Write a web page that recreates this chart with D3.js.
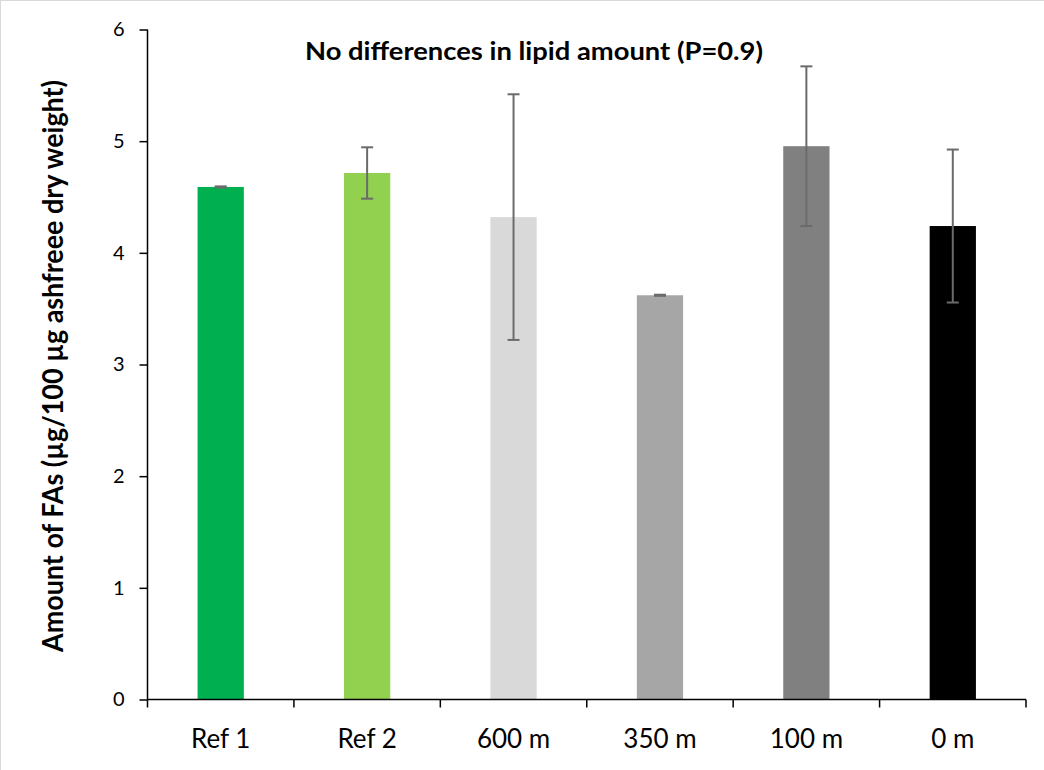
<!DOCTYPE html>
<html>
<head>
<meta charset="utf-8">
<script src="https://cdn.jsdelivr.net/npm/d3@7"></script>
<style>
  html, body { margin: 0; padding: 0; background: #fff; }
  svg { display: block; }
</style>
</head>
<body>
<svg id="chart" width="1044" height="770"></svg>
<script>
const categories = ["Ref 1", "Ref 2", "600 m", "350 m", "100 m", "0 m"];
const values = [4.59, 4.715, 4.32, 3.62, 4.955, 4.24];
const errors = [0.005, 0.23, 1.10, 0.005, 0.715, 0.685];
const colors = ["#00B050", "#92D050", "#D9D9D9", "#A6A6A6", "#808080", "#000000"];
const yTicks = [0, 1, 2, 3, 4, 5, 6];
const title = "No differences in lipid amount (P=0.9)";
const yLabel = "Amount of FAs (µg/100 µg ashfreee dry weight)";

const svg = d3.select("#chart");
const font = "Lato, 'Open Sans', sans-serif";

// frame
svg.append("rect").attr("x", 0.5).attr("y", 0.5).attr("width", 1100).attr("height", 1100)
  .attr("fill", "none").attr("stroke", "#d9d9d9").attr("stroke-width", 1);

const x = d3.scaleBand().domain(categories).range([147.5, 1026])
  .paddingInner(0.684).paddingOuter(0.342);
const y = d3.scaleLinear().domain([0, 6]).range([699.5, 29.5]);

// bars
svg.append("g").selectAll("rect").data(categories).join("rect")
  .attr("x", d => x(d))
  .attr("width", x.bandwidth())
  .attr("y", (d, i) => y(values[i]))
  .attr("height", (d, i) => y(0) - y(values[i]))
  .attr("fill", (d, i) => colors[i]);

// error bars
const eg = svg.append("g").attr("stroke", "#6b6b6b").attr("stroke-width", 2);
categories.forEach((c, i) => {
  const cx = x(c) + x.bandwidth() / 2;
  const top = y(values[i] + errors[i]);
  const bot = y(values[i] - errors[i]);
  eg.append("line").attr("x1", cx).attr("x2", cx).attr("y1", top).attr("y2", bot);
  eg.append("line").attr("x1", cx - 6).attr("x2", cx + 6).attr("y1", top).attr("y2", top);
  eg.append("line").attr("x1", cx - 6).attr("x2", cx + 6).attr("y1", bot).attr("y2", bot);
});

// y axis
const yAxis = svg.append("g").attr("transform", `translate(${x.range()[0]},0)`)
  .call(d3.axisLeft(y).tickValues(yTicks).tickFormat(d3.format("d")).tickSize(8).tickPadding(15));
yAxis.select(".domain").attr("stroke", "#000").attr("stroke-width", 1.5).attr("d", `M0,${y(6)}V${y(0)}`);
yAxis.selectAll(".tick line").attr("stroke", "#000").attr("stroke-width", 1.5);
yAxis.selectAll(".tick text").attr("font-family", font).attr("font-size", 20).attr("fill", "#000");

// x axis
const xAxis = svg.append("g").attr("transform", `translate(0,${y(0)})`)
  .call(d3.axisBottom(x).tickSize(0).tickPadding(30));
xAxis.select(".domain").attr("stroke", "#000").attr("stroke-width", 1.5)
  .attr("d", `M${x.range()[0]},0H${x.range()[1]}`);
xAxis.selectAll(".tick text").attr("font-family", font).attr("font-size", 26).attr("fill", "#000");
const half = x.step() * x.paddingInner() / 2;
const bounds = categories.map(c => x(c) - half).concat([x(categories[categories.length - 1]) + x.bandwidth() + half]);
xAxis.append("g").selectAll("line").data(bounds).join("line")
  .attr("x1", d => d).attr("x2", d => d).attr("y1", 0).attr("y2", 8)
  .attr("stroke", "#000").attr("stroke-width", 1.5);

// title
svg.append("text").attr("x", 534).attr("y", 60).attr("text-anchor", "middle")
  .attr("font-family", font).attr("font-weight", "bold").attr("font-size", 24)
  .attr("textLength", 458).attr("lengthAdjust", "spacingAndGlyphs")
  .text(title);

// y label
svg.append("text").attr("transform", "translate(63,366) rotate(-90)")
  .attr("text-anchor", "middle")
  .attr("font-family", font).attr("font-weight", "bold").attr("font-size", 28)
  .attr("textLength", 572).attr("lengthAdjust", "spacingAndGlyphs")
  .text(yLabel);
</script>
</body>
</html>
